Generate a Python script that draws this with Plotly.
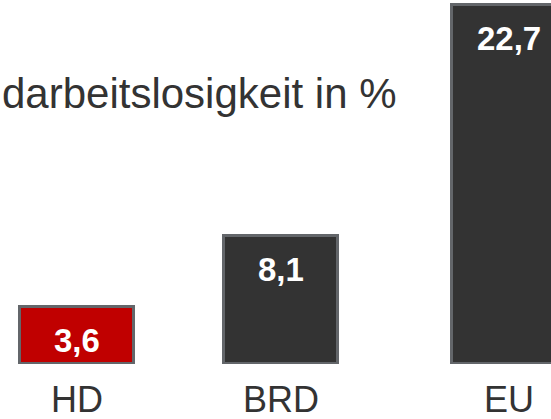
import plotly.graph_objects as go

# Youth unemployment rate, in percent
regions = ["HD", "BRD", "EU"]
rates = [3.6, 8.1, 22.7]
bar_colors = ["#C00000", "#333333", "#333333"]
title_text = "darbeitslosigkeit in %"

FONT = "Liberation Sans, Arial, sans-serif"
W, H = 551, 419
PX_PER_UNIT = 15.8
BASE_PX = 364            # bottom of bars, px from top
SLOT_PX = 216            # distance between category centres
BAR_PX = 114
FIRST_CENTER_PX = 77

bar_w = BAR_PX / SLOT_PX
# small horizontal nudges (px) per category
nudges_px = [0, -12, 0]
offsets = [-bar_w / 2 + n / SLOT_PX for n in nudges_px]

fig = go.Figure(
    go.Bar(
        x=regions,
        y=rates,
        width=[bar_w] * len(regions),
        offset=offsets,
        marker=dict(color=bar_colors, line=dict(color="#63666a", width=3)),
        hoverinfo="skip",
    )
)

x_lo = -FIRST_CENTER_PX / SLOT_PX
x_hi = x_lo + W / SLOT_PX

annotations = []
for i, (r, v) in enumerate(zip(regions, rates)):
    # value label inside the bar, near its top
    annotations.append(dict(
        x=r, y=v, xref="x", yref="y",
        text=f"{v:.1f}".replace(".", ","),
        showarrow=False, xanchor="center", yanchor="middle",
        xshift=nudges_px[i], yshift=-33,
        font=dict(family=FONT, size=33, color="white", weight="bold"),
    ))
    # category label below the bar
    annotations.append(dict(
        x=r, y=0, xref="x", yref="paper",
        text=r, showarrow=False, xanchor="center", yanchor="top",
        xshift=nudges_px[i], yshift=-13,
        font=dict(family=FONT, size=36, color="#333333"),
    ))

# heading, left edge at the figure border, centred around y=93 px
annotations.append(dict(
    x=0, y=(BASE_PX - 93) / BASE_PX, xref="paper", yref="paper",
    text=title_text, showarrow=False, xanchor="left", yanchor="middle",
    font=dict(family=FONT, size=42, color="#333333"),
))

fig.update_layout(
    width=W, height=H,
    margin=dict(l=0, r=0, t=0, b=H - BASE_PX, pad=0),
    paper_bgcolor="white", plot_bgcolor="white",
    showlegend=False,
    bargap=0,
    xaxis=dict(range=[x_lo, x_hi], showticklabels=False, showgrid=False,
               zeroline=False, showline=False, fixedrange=True),
    yaxis=dict(range=[0, BASE_PX / PX_PER_UNIT], showticklabels=False,
               showgrid=False, zeroline=False, showline=False, fixedrange=True),
    annotations=annotations,
)

fig.write_html("out.html", config={"displayModeBar": False})
